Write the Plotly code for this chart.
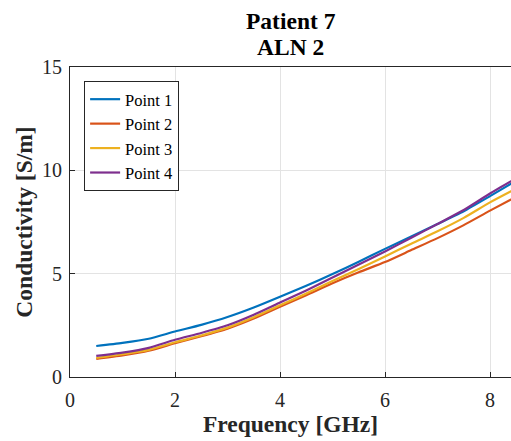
import plotly.graph_objects as go

freq = [0.5, 1.0, 1.5, 2.0, 2.5, 3.0, 3.5, 4.0, 4.5, 5.0, 5.5, 6.0, 6.5, 7.0, 7.5, 8.0, 8.5]
point1 = [1.50, 1.65, 1.85, 2.20, 2.52, 2.90, 3.36, 3.88, 4.42, 4.98, 5.58, 6.20, 6.80, 7.40, 8.02, 8.75, 9.50]
point2 = [0.88, 1.05, 1.27, 1.63, 1.97, 2.34, 2.83, 3.40, 3.96, 4.54, 5.07, 5.56, 6.14, 6.72, 7.35, 8.05, 8.72]
point3 = [0.92, 1.10, 1.31, 1.68, 2.01, 2.39, 2.89, 3.47, 4.04, 4.64, 5.22, 5.83, 6.45, 7.05, 7.70, 8.45, 9.12]
point4 = [1.02, 1.18, 1.41, 1.80, 2.13, 2.50, 3.01, 3.60, 4.19, 4.81, 5.44, 6.07, 6.74, 7.40, 8.08, 8.88, 9.62]
names = ["Point 1", "Point 2", "Point 3", "Point 4"]
colors = ["#0072BD", "#D95319", "#EDB120", "#7E2F8E"]
title_lines = ["Patient 7", "ALN 2"]

FONT = "Liberation Serif"
fig = go.Figure()
for name, ys, c in zip(names, [point1, point2, point3, point4], colors):
    fig.add_trace(go.Scatter(x=freq, y=ys, mode="lines", name=name,
                             line=dict(color=c, width=2.2, shape="spline", smoothing=0.6)))

axis_common = dict(
    showline=True, linecolor="#262626", linewidth=1, mirror=True,
    ticks="inside", ticklen=5, tickcolor="#262626",
    showgrid=True, gridcolor="#E3E3E3", gridwidth=1, zeroline=False,
    tickfont=dict(family=FONT, size=20, color="#262626"),
)
fig.update_xaxes(range=[0, 8.4], tickvals=[0, 2, 4, 6, 8], ticklabelstandoff=5,
                 title=dict(text="<b>Frequency [GHz]</b>", font=dict(family=FONT, size=23.5, color="#262626"), standoff=0),
                 **axis_common)
fig.update_yaxes(range=[0, 15], tickvals=[0, 5, 10, 15], ticklabelstandoff=3,
                 title=dict(text="<b>Conductivity [S/m]</b>", font=dict(family=FONT, size=23.5, color="#262626"), standoff=2),
                 **axis_common)
for txt, yy in zip(title_lines, [1.148, 1.063]):
    fig.add_annotation(text=f"<b>{txt}</b>", xref="paper", yref="paper", x=0.5, y=yy,
                       xanchor="center", yanchor="middle", showarrow=False,
                       font=dict(family=FONT, size=23.5, color="black"))
fig.update_layout(
    width=511, height=441,
    margin=dict(l=70, r=0, t=67, b=64),
    paper_bgcolor="white", plot_bgcolor="white",
    showlegend=True,
    legend=dict(x=0.032, y=0.955, xanchor="left", yanchor="top",
                bgcolor="white", bordercolor="#262626", borderwidth=1,
                font=dict(family=FONT, size=16.5, color="black"),
                itemwidth=30, tracegroupgap=0),
)
fig.write_html("out.html")
